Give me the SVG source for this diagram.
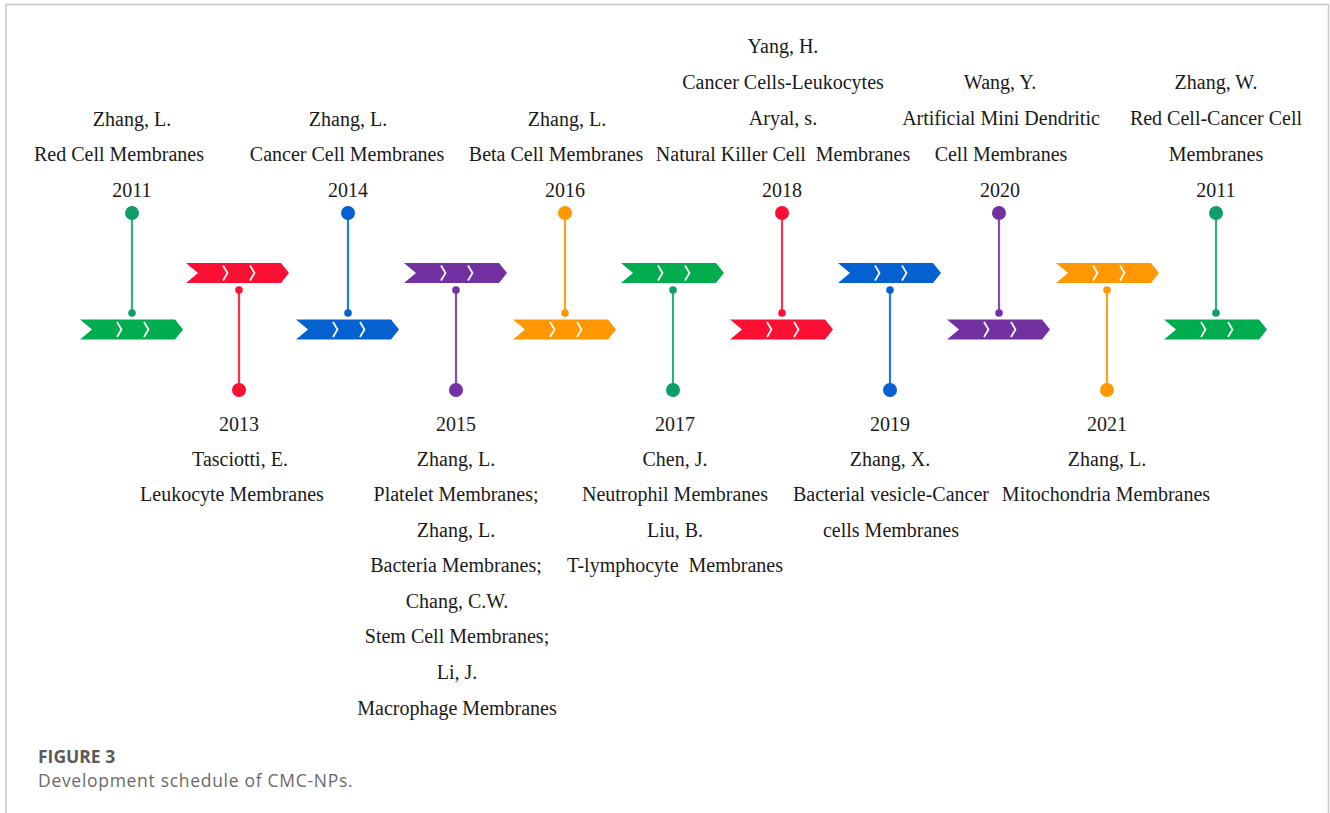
<svg xmlns="http://www.w3.org/2000/svg" width="1330" height="813" viewBox="0 0 1330 813">
<style>
.t{font-family:"Liberation Serif","Times New Roman",serif;font-size:20px;fill:#1a1a1a;text-anchor:middle}
.chev{fill:none;stroke:#fff;stroke-width:1.8;stroke-linejoin:miter}
.ln{stroke-width:2.2;fill:none}
.cap1{font-family:"Open Sans","Liberation Sans",sans-serif;font-size:17.5px;font-weight:bold;fill:#5a5a5a}
.cap2{font-family:"Open Sans","Liberation Sans",sans-serif;font-size:17.5px;fill:#6a6a6a;letter-spacing:0.7px}
.g{fill:#00ad4e}.gd{fill:#0f9e6a}.gl{stroke:#2fb07f}
.r{fill:#fb0f33}.rl{stroke:#f7334f}
.b{fill:#0561cf}.bl{stroke:#1f7ae0}
.o{fill:#ff9800}.ol{stroke:#ffa11f}
.p{fill:#7330a0}.pl{stroke:#8a4bb0}
</style>
<defs>
<g id="arrowShape">
<polygon points="0,-10 95,-10 103,0 95,10 0,10 12,0"/>
<polyline class="chev" points="37,-7.5 41.5,0 37,7.5"/>
<polyline class="chev" points="64,-7.5 68.5,0 64,7.5"/>
</g>
</defs>
<rect x="6" y="4.5" width="1322.5" height="820" fill="#fff" stroke="#c8c8c8" stroke-width="1.5"/>

<g id="arrows">
<use href="#arrowShape" class="g" x="80" y="329.5"/>
<use href="#arrowShape" class="r" x="186" y="273"/>
<use href="#arrowShape" class="b" x="296" y="329.5"/>
<use href="#arrowShape" class="p" x="404" y="273"/>
<use href="#arrowShape" class="o" x="513" y="329.5"/>
<use href="#arrowShape" class="g" x="621" y="273"/>
<use href="#arrowShape" class="r" x="730" y="329.5"/>
<use href="#arrowShape" class="b" x="838" y="273"/>
<use href="#arrowShape" class="p" x="947" y="329.5"/>
<use href="#arrowShape" class="o" x="1056" y="273"/>
<use href="#arrowShape" class="g" x="1164" y="329.5"/>
</g>

<g id="connectors">
<line class="ln gl" x1="132" y1="213" x2="132" y2="313"/>
<line class="ln rl" x1="239" y1="290" x2="239" y2="390"/>
<line class="ln bl" x1="348" y1="213" x2="348" y2="313"/>
<line class="ln pl" x1="456" y1="290" x2="456" y2="390"/>
<line class="ln ol" x1="565" y1="213" x2="565" y2="313"/>
<line class="ln gl" x1="673" y1="290" x2="673" y2="390"/>
<line class="ln rl" x1="782" y1="213" x2="782" y2="313"/>
<line class="ln bl" x1="890" y1="290" x2="890" y2="390"/>
<line class="ln pl" x1="999" y1="213" x2="999" y2="313"/>
<line class="ln ol" x1="1107" y1="290" x2="1107" y2="390"/>
<line class="ln gl" x1="1216" y1="213" x2="1216" y2="313"/>
</g>

<g id="m2011a">
<circle class="gd" cx="132" cy="213" r="7"/><circle class="gd" cx="132" cy="313" r="3.8"/>
<text class="t" x="132" y="126">Zhang, L.</text>
<text class="t" x="119" y="161">Red Cell Membranes</text>
<text class="t" x="132" y="197">2011</text>
</g>
<g id="m2013">
<circle class="r" cx="239" cy="390" r="7"/><circle class="r" cx="239" cy="290" r="3.8"/>
<text class="t" x="239" y="431">2013</text>
<text class="t" x="240" y="466">Tasciotti, E.</text>
<text class="t" x="232" y="501">Leukocyte Membranes</text>
</g>
<g id="m2014">
<circle class="b" cx="348" cy="213" r="7"/><circle class="b" cx="348" cy="313" r="3.8"/>
<text class="t" x="348" y="126">Zhang, L.</text>
<text class="t" x="347" y="161">Cancer Cell Membranes</text>
<text class="t" x="348" y="197">2014</text>
</g>
<g id="m2015">
<circle class="p" cx="456" cy="390" r="7"/><circle class="p" cx="456" cy="290" r="3.8"/>
<text class="t" x="456" y="431">2015</text>
<text class="t" x="456" y="466">Zhang, L.</text>
<text class="t" x="456" y="501">Platelet Membranes;</text>
<text class="t" x="456" y="537">Zhang, L.</text>
<text class="t" x="456" y="572">Bacteria Membranes;</text>
<text class="t" x="457" y="608">Chang, C.W.</text>
<text class="t" x="457" y="643">Stem Cell Membranes;</text>
<text class="t" x="457" y="679">Li, J.</text>
<text class="t" x="457" y="715">Macrophage Membranes</text>
</g>
<g id="m2016">
<circle class="o" cx="565" cy="213" r="7"/><circle class="o" cx="565" cy="313" r="3.8"/>
<text class="t" x="567" y="126">Zhang, L.</text>
<text class="t" x="556" y="161">Beta Cell Membranes</text>
<text class="t" x="565" y="197">2016</text>
</g>
<g id="m2017">
<circle class="gd" cx="673" cy="390" r="7"/><circle class="gd" cx="673" cy="290" r="3.8"/>
<text class="t" x="675" y="431">2017</text>
<text class="t" x="675" y="466">Chen, J.</text>
<text class="t" x="675" y="501">Neutrophil Membranes</text>
<text class="t" x="675" y="537">Liu, B.</text>
<text class="t" x="675" y="572" xml:space="preserve">T-lymphocyte  Membranes</text>
</g>
<g id="m2018">
<circle class="r" cx="782" cy="213" r="7"/><circle class="r" cx="782" cy="313" r="3.8"/>
<text class="t" x="783" y="53">Yang, H.</text>
<text class="t" x="783" y="89">Cancer Cells-Leukocytes</text>
<text class="t" x="783" y="125">Aryal, s.</text>
<text class="t" x="783" y="161" xml:space="preserve">Natural Killer Cell  Membranes</text>
<text class="t" x="782" y="197">2018</text>
</g>
<g id="m2019">
<circle class="b" cx="890" cy="390" r="7"/><circle class="b" cx="890" cy="290" r="3.8"/>
<text class="t" x="890" y="431">2019</text>
<text class="t" x="890" y="466">Zhang, X.</text>
<text class="t" x="891" y="501">Bacterial vesicle-Cancer</text>
<text class="t" x="891" y="537">cells Membranes</text>
</g>
<g id="m2020">
<circle class="p" cx="999" cy="213" r="7"/><circle class="p" cx="999" cy="313" r="3.8"/>
<text class="t" x="1000" y="89">Wang, Y.</text>
<text class="t" x="1001" y="125">Artificial Mini Dendritic</text>
<text class="t" x="1001" y="161">Cell Membranes</text>
<text class="t" x="1000" y="197">2020</text>
</g>
<g id="m2021">
<circle class="o" cx="1107" cy="390" r="7"/><circle class="o" cx="1107" cy="290" r="3.8"/>
<text class="t" x="1107" y="431">2021</text>
<text class="t" x="1107" y="466">Zhang, L.</text>
<text class="t" x="1106" y="501">Mitochondria Membranes</text>
</g>
<g id="m2011b">
<circle class="gd" cx="1216" cy="213" r="7"/><circle class="gd" cx="1216" cy="313" r="3.8"/>
<text class="t" x="1216" y="89">Zhang, W.</text>
<text class="t" x="1216" y="125">Red Cell-Cancer Cell</text>
<text class="t" x="1216" y="161">Membranes</text>
<text class="t" x="1216" y="197">2011</text>
</g>

<g id="caption">
<text class="cap1" x="38" y="763">FIGURE 3</text>
<text class="cap2" x="38" y="787">Development schedule of CMC-NPs.</text>
</g>
</svg>
